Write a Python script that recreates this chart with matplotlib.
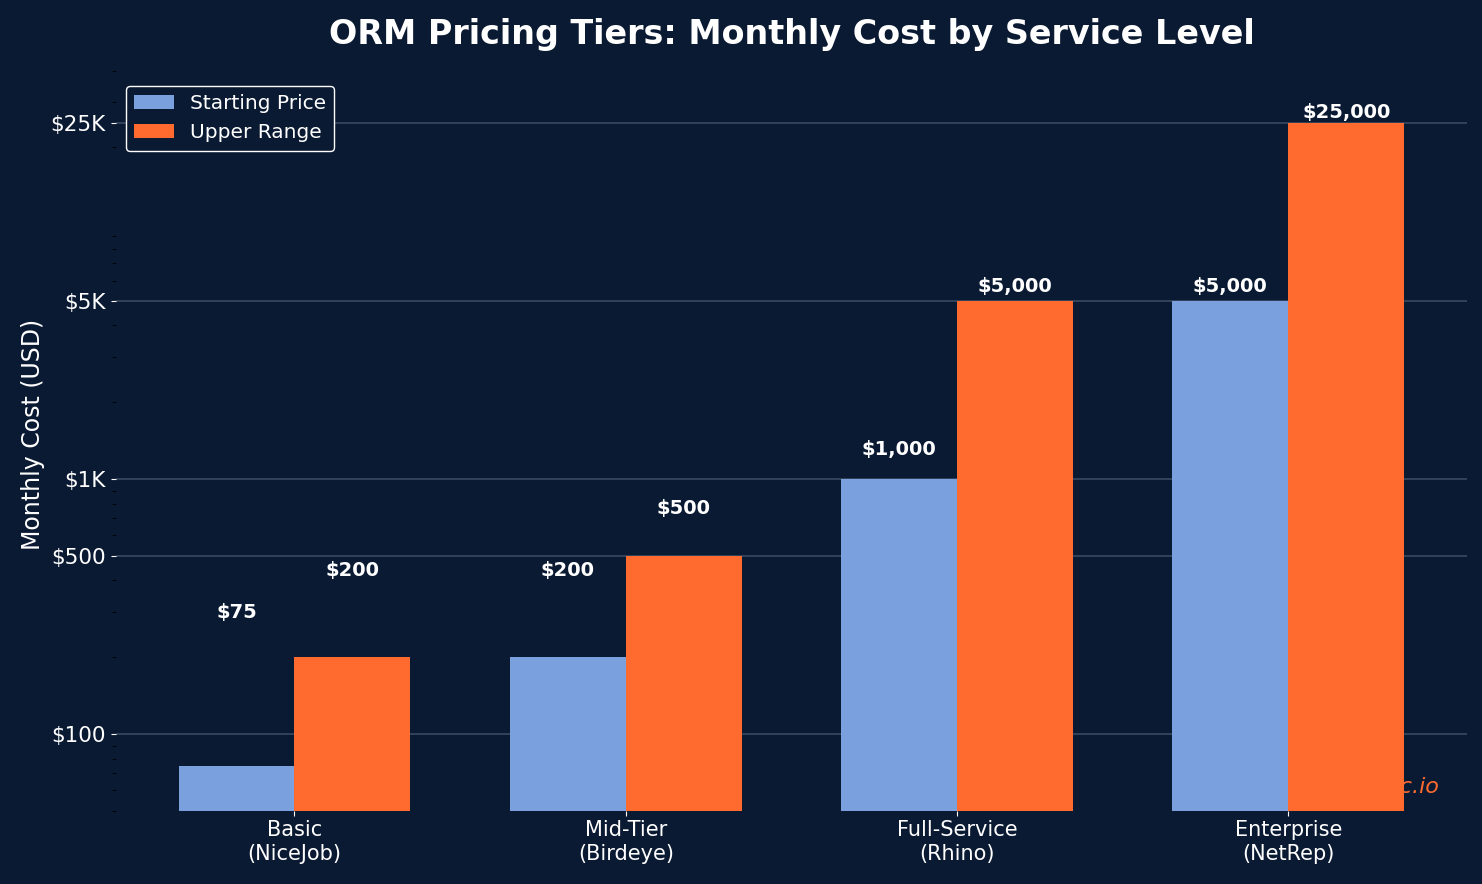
import matplotlib
matplotlib.use("Agg")
import matplotlib.pyplot as plt
import numpy as np

plt.rcParams["font.family"] = ["DejaVu Sans"]

tiers = ["Basic\n(NiceJob)", "Mid-Tier\n(Birdeye)", "Full-Service\n(Rhino)", "Enterprise\n(NetRep)"]
starting = [75, 200, 1000, 5000]
upper = [200, 500, 5000, 25000]
tick_vals = [100, 500, 1000, 5000, 25000]
tick_labels = ["$100", "$500", "$1K", "$5K", "$25K"]

BG = "#0b1a33"
BLUE = "#7aa1dd"
ORANGE = "#ff6b2f"

fig, ax = plt.subplots(figsize=(14.82, 8.84), dpi=100)
fig.patch.set_facecolor(BG)
ax.set_facecolor(BG)

x = np.arange(len(tiers))
w = 0.35
ax.bar(x - w / 2, starting, w, color=BLUE, label="Starting Price", zorder=3)
ax.bar(x + w / 2, upper, w, color=ORANGE, label="Upper Range", zorder=3)

for xs, vals in ((x - w / 2, starting), (x + w / 2, upper)):
    for xi, v in zip(xs, vals):
        ax.text(xi, v + 200, f"${v:,}", ha="center", va="bottom",
                color="white", fontsize=14, fontweight="bold", zorder=4)

ax.set_yscale("log")
ax.set_ylim(50, 45000)
ax.set_yticks(tick_vals)
ax.set_yticklabels(tick_labels)
ax.tick_params(axis="y", which="minor", colors="black", length=3)
ax.tick_params(axis="y", colors="white", labelsize=15.5)
ax.tick_params(axis="x", colors="white", labelsize=15)
ax.set_xticks(x)
ax.set_xticklabels(tiers)
ax.set_xlim(-0.54, 3.54)
ax.grid(axis="y", which="major", color="#3a4a63", lw=1.2, zorder=0)
for s in ax.spines.values():
    s.set_visible(False)

ax.set_ylabel("Monthly Cost (USD)", color="white", fontsize=17)
ax.set_title("ORM Pricing Tiers: Monthly Cost by Service Level",
             color="white", fontsize=24, fontweight="bold", pad=10)
ax.text(0.98, 0.018, "ormmetric.io", transform=ax.transAxes, ha="right",
        va="bottom", color=ORANGE, fontsize=16, style="italic", zorder=1)

leg = ax.legend(loc="upper left", bbox_to_anchor=(0.0, 0.975), fontsize=14.5,
                facecolor=BG, edgecolor="white", labelcolor="white", framealpha=1)

fig.subplots_adjust(left=0.078, right=0.99, top=0.935, bottom=0.083)
fig.savefig("out.png", dpi=100, facecolor=BG)
